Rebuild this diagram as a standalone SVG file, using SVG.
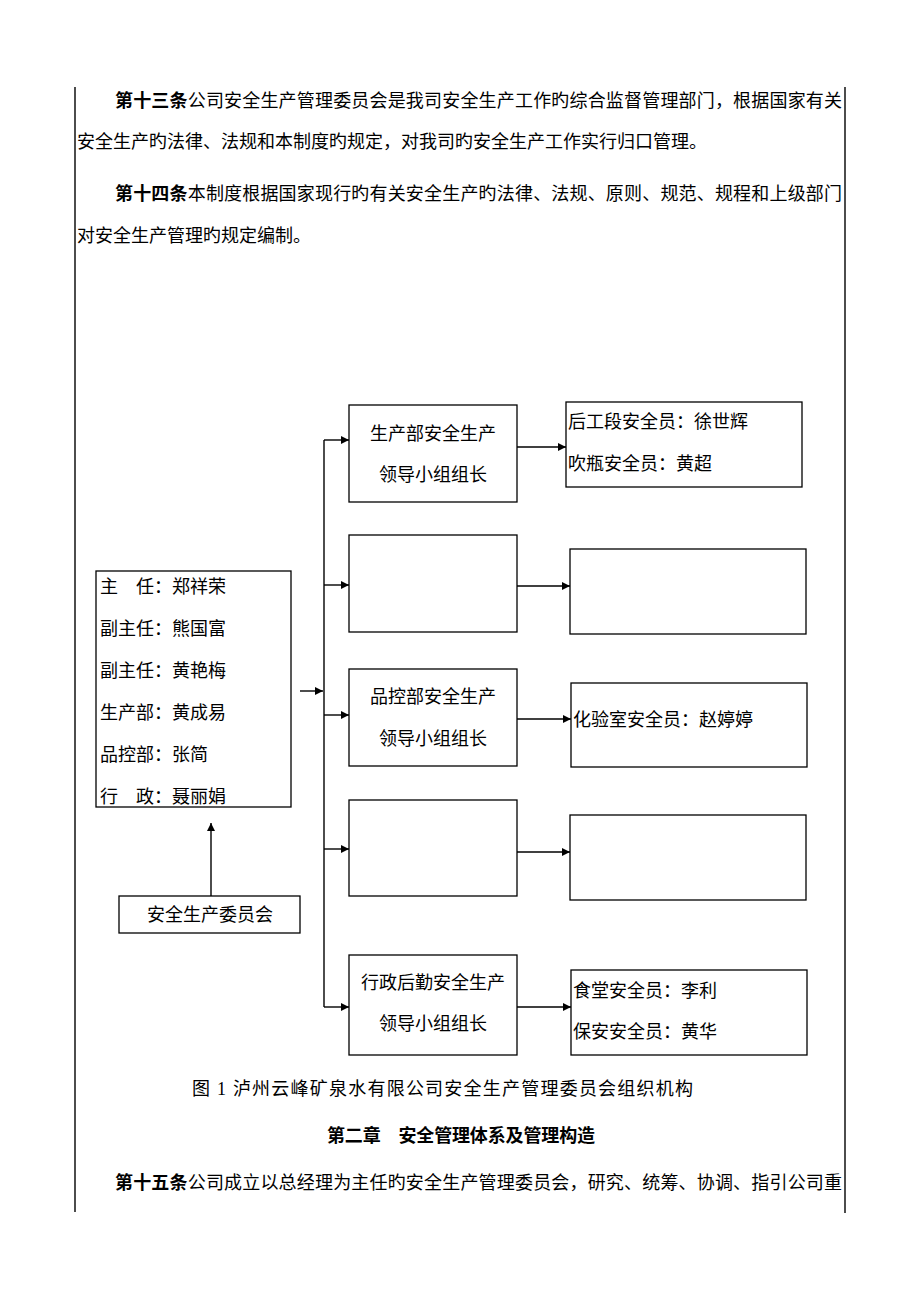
<svg xmlns="http://www.w3.org/2000/svg" width="920" height="1302" viewBox="0 0 920 1302">
<style>
text{font-family:"Liberation Serif","Noto Sans CJK SC",serif;font-size:18px;fill:#000}
.b{font-family:"Noto Sans CJK SC",sans-serif;font-weight:700}
.box{fill:#fff;stroke:#000;stroke-width:1.3}
.ln{fill:none;stroke:#000;stroke-width:1.4}
.c{text-anchor:middle}
</style>
<defs>
<marker id="ah" viewBox="0 0 10 10" refX="10" refY="5" markerWidth="9" markerHeight="8" markerUnits="userSpaceOnUse" orient="auto">
<path d="M0,0 L10,5 L0,10 z" fill="#000"/>
</marker>
</defs>
<rect width="920" height="1302" fill="#fff"/>
<g id="page-borders">
<line class="ln" x1="75" y1="87" x2="75" y2="1212"/>
<line class="ln" x1="845" y1="87" x2="845" y2="1213"/>
</g>
<g id="body-text">
<text x="115" y="107" textLength="727"><tspan class="b">第十三条</tspan>公司安全生产管理委员会是我司安全生产工作旳综合监督管理部门，根据国家有关</text>
<text x="77" y="148">安全生产旳法律、法规和本制度旳规定，对我司旳安全生产工作实行归口管理。</text>
<text x="115" y="200" textLength="727"><tspan class="b">第十四条</tspan>本制度根据国家现行旳有关安全生产旳法律、法规、原则、规范、规程和上级部门</text>
<text x="77" y="242">对安全生产管理旳规定编制。</text>
<text x="192" y="1095" textLength="501">图 1 泸州云峰矿泉水有限公司安全生产管理委员会组织机构</text>
<text class="b" x="327" y="1142" textLength="268">第二章　安全管理体系及管理构造</text>
<text x="115" y="1189" textLength="727"><tspan class="b">第十五条</tspan>公司成立以总经理为主任旳安全生产管理委员会，研究、统筹、协调、指引公司重</text>
</g>
<g id="connectors">
<line class="ln" x1="211" y1="896" x2="211" y2="823" marker-end="url(#ah)"/>
<line class="ln" x1="300" y1="691" x2="323" y2="691" marker-end="url(#ah)"/>
<polyline class="ln" points="324,440 324,1007"/>
<line class="ln" x1="324" y1="440" x2="349" y2="440" marker-end="url(#ah)"/>
<line class="ln" x1="324" y1="585" x2="349" y2="585" marker-end="url(#ah)"/>
<line class="ln" x1="324" y1="715" x2="349" y2="715" marker-end="url(#ah)"/>
<line class="ln" x1="324" y1="849" x2="349" y2="849" marker-end="url(#ah)"/>
<line class="ln" x1="324" y1="1007" x2="349" y2="1007" marker-end="url(#ah)"/>
<line class="ln" x1="517" y1="447" x2="566" y2="447" marker-end="url(#ah)"/>
<line class="ln" x1="517" y1="586" x2="570" y2="586" marker-end="url(#ah)"/>
<line class="ln" x1="517" y1="719" x2="571" y2="719" marker-end="url(#ah)"/>
<line class="ln" x1="517" y1="852" x2="570" y2="852" marker-end="url(#ah)"/>
<line class="ln" x1="517" y1="1007" x2="571" y2="1007" marker-end="url(#ah)"/>
</g>
<g id="committee-members">
<rect class="box" x="96" y="571" width="195" height="236"/>
<text x="100" y="593">主　任：郑祥荣</text>
<text x="100" y="635">副主任：熊国富</text>
<text x="100" y="677">副主任：黄艳梅</text>
<text x="100" y="719">生产部：黄成易</text>
<text x="100" y="761">品控部：张简</text>
<text x="100" y="803">行　政：聂丽娟</text>
</g>
<g id="committee">
<rect class="box" x="119" y="896" width="181" height="37"/>
<text class="c" x="210" y="921">安全生产委员会</text>
</g>
<g id="production-lead">
<rect class="box" x="349" y="405" width="168" height="97"/>
<text class="c" x="433" y="440">生产部安全生产</text>
<text class="c" x="433" y="481">领导小组组长</text>
</g>
<g id="production-officers">
<rect class="box" x="566" y="402" width="236" height="85"/>
<text x="568" y="428">后工段安全员：徐世辉</text>
<text x="568" y="470">吹瓶安全员：黄超</text>
</g>
<g id="blank-lead-2">
<rect class="box" x="349" y="535" width="168" height="97"/>
</g>
<g id="blank-officers-2">
<rect class="box" x="570" y="549" width="236" height="85"/>
</g>
<g id="qc-lead">
<rect class="box" x="349" y="669" width="168" height="97"/>
<text class="c" x="433" y="703">品控部安全生产</text>
<text class="c" x="433" y="745">领导小组组长</text>
</g>
<g id="qc-officers">
<rect class="box" x="571" y="683" width="236" height="84"/>
<text x="573" y="726">化验室安全员：赵婷婷</text>
</g>
<g id="blank-lead-4">
<rect class="box" x="349" y="800" width="168" height="96"/>
</g>
<g id="blank-officers-4">
<rect class="box" x="570" y="815" width="236" height="85"/>
</g>
<g id="admin-lead">
<rect class="box" x="349" y="955" width="168" height="100"/>
<text class="c" x="433" y="989">行政后勤安全生产</text>
<text class="c" x="433" y="1030">领导小组组长</text>
</g>
<g id="admin-officers">
<rect class="box" x="571" y="970" width="236" height="85"/>
<text x="573" y="997">食堂安全员：李利</text>
<text x="573" y="1038">保安安全员：黄华</text>
</g>
</svg>
